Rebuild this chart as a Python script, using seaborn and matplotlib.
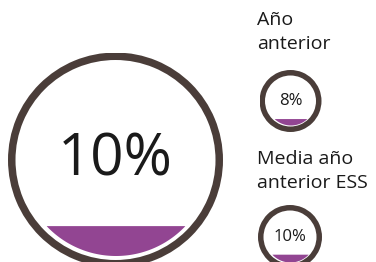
import numpy as np
import matplotlib
matplotlib.use('Agg')
import matplotlib.pyplot as plt
from matplotlib.patches import Wedge
import seaborn as sns

# data
gauge_names = ['actual', 'Año\nanterior', 'Media año\nanterior ESS']
gauge_values = [10, 8, 10]
gauge_labels = ['10%', '8%', '10%']

sns.set_theme(style='white')
plt.rcParams['font.family'] = ['Open Sans', 'DejaVu Sans']

RING = '#4a3d39'
PURPLE = '#924592'
W, H = 376, 262

fig = plt.figure(figsize=(W / 100, H / 100), dpi=100)

# layout in pixels: centre x, centre y, outer radius, ring width, gap, font size
layout = [
    (115.5, 160.0, 107.5, 7.5, 4.5, 42),
    (290.5, 101.0, 31.0, 5.5, 1.5, 12),
    (290.0, 237.0, 32.0, 5.5, 1.5, 12),
]


def level_for_area(frac):
    # height of the fill (y on unit circle) so the filled area equals frac
    lo, hi = -1.0, 1.0
    for _ in range(60):
        mid = (lo + hi) / 2
        a = (np.arccos(-mid) - (-mid) * np.sqrt(1 - mid ** 2)) / np.pi
        if a > frac:
            hi = mid
        else:
            lo = mid
    return (lo + hi) / 2


for val, lab, (cx, cy, R, rw, gap, fs) in zip(gauge_values, gauge_labels, layout):
    ax = fig.add_axes([(cx - R) / W, 1 - (cy + R) / H, 2 * R / W, 2 * R / H])
    ax.set_xlim(-1, 1)
    ax.set_ylim(-1, 1)
    ax.set_aspect('equal')
    ax.axis('off')
    ax.add_patch(Wedge((0, 0), 1, 0, 360, width=rw / R, color=RING, lw=0))
    rp = (R - rw - gap) / R
    lvl = level_for_area(val / 100) * rp
    x = np.linspace(-rp, rp, 400)
    circ = np.sqrt(np.clip(rp ** 2 - x ** 2, 0, None))
    top = np.minimum(lvl, circ)
    ax.fill_between(x, -circ, top, where=top > -circ, color=PURPLE, lw=0)
    ax.text(0, 0, lab, ha='center', va='center', fontsize=fs, color='#1a1a1a')

fig.text(257 / W, 1 - 11 / H, gauge_names[1], ha='left', va='top',
         fontsize=14, color='#1a1a1a', linespacing=1.45)
fig.text(257 / W, 1 - 150 / H, gauge_names[2], ha='left', va='top',
         fontsize=14, color='#1a1a1a', linespacing=1.45)

fig.savefig('out.png', dpi=100)
